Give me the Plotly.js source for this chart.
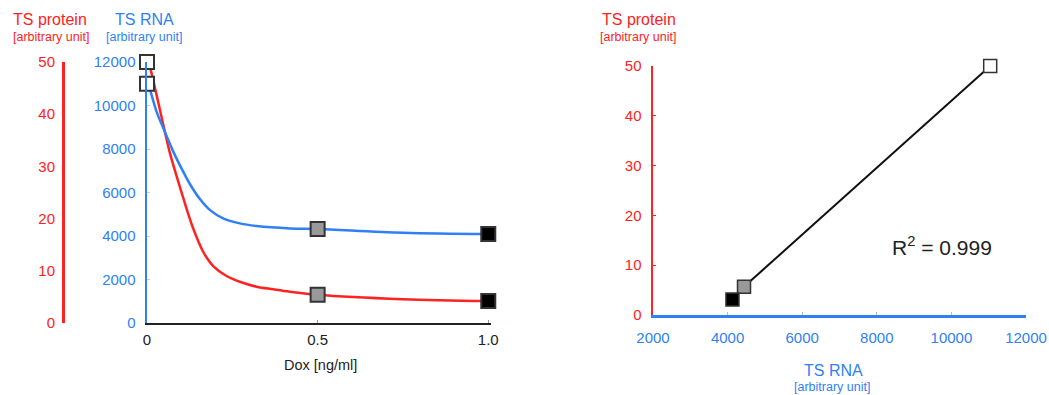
<!DOCTYPE html>
<html>
<head>
<meta charset="utf-8">
<script src="https://cdn.plot.ly/plotly-3.0.1.min.js"></script>
<style>html,body{margin:0;padding:0;background:#fff;}#chart{width:1049px;height:395px;}</style>
</head>
<body>
<div id="chart"></div>
<script>
// ---- data ----
const doseTicks = [0, 0.5, 1.0];
const doseTickText = ['0', '0.5', '1.0'];

// measured points (left panel)
const dosePoints = [0, 0.5, 1.0];
const rnaPoints = [11000, 4320, 4090];
const proteinPoints = [50, 5.4, 4.2];
const pointColors = ['#ffffff', '#999999', '#000000'];

// fitted curves (left panel)
const curveDoseRna = [0, 0.007, 0.028, 0.048, 0.077, 0.106, 0.126, 0.155, 0.184, 0.223, 0.272, 0.321, 0.419, 0.5, 0.75, 1.0];
const curveRna = [11000, 10790, 9720, 8950, 7880, 6960, 6380, 5700, 5200, 4810, 4580, 4460, 4350, 4320, 4150, 4090];
const curveDoseProtein = [0, 0.009, 0.028, 0.048, 0.067, 0.092, 0.106, 0.136, 0.165, 0.194, 0.233, 0.272, 0.321, 0.370, 0.419, 0.5, 0.75, 1.0];
const curveProtein = [50, 48.8, 43.7, 37.9, 32.6, 27.0, 24.0, 18.0, 13.6, 10.9, 9.0, 7.9, 6.95, 6.46, 6.0, 5.4, 4.55, 4.2];

// right panel scatter
const scatterRna = [11040, 4440, 4130];
const scatterProtein = [50, 5.66, 3.1];
const fitRna = [4440, 11040];
const fitProtein = [5.66, 50];

const proteinTicks = [0, 10, 20, 30, 40, 50];
const rnaTicks = [0, 2000, 4000, 6000, 8000, 10000, 12000];
const rnaTickText = ['0', '2000', '4000', '6000', '8000', '10000', '12000'];
const rnaTicksRight = [2000, 4000, 6000, 8000, 10000, 12000];
const rnaTickTextRight = ['2000', '4000', '6000', '8000', '10000', '12000'];

// ---- style ----
const RED = '#ff2222';
const BLUE = '#2f7ff5';
const FONT = 'Liberation Sans, Arial, sans-serif';
const W = 1049, H = 395;
const px = v => v / W;
const py = v => 1 - v / H;

const traces = [
  { x: curveDoseProtein, y: curveProtein, xaxis: 'x', yaxis: 'y', mode: 'lines',
    line: { color: RED, width: 2.5, shape: 'spline', smoothing: 1 }, hoverinfo: 'skip' },
  { x: dosePoints, y: proteinPoints, xaxis: 'x', yaxis: 'y', mode: 'markers', cliponaxis: false,
    marker: { symbol: 'square', size: 14, color: pointColors, line: { color: '#333', width: 2 } } },
  { x: curveDoseRna, y: curveRna, xaxis: 'x', yaxis: 'y2', mode: 'lines',
    line: { color: BLUE, width: 2.5, shape: 'spline', smoothing: 1 }, hoverinfo: 'skip' },
  { x: dosePoints, y: rnaPoints, xaxis: 'x', yaxis: 'y2', mode: 'markers', cliponaxis: false,
    marker: { symbol: 'square', size: 14, color: pointColors, line: { color: '#333', width: 2 } } },
  { x: fitRna, y: fitProtein, xaxis: 'x2', yaxis: 'y3', mode: 'lines',
    line: { color: '#111', width: 2 } },
  { x: scatterRna, y: scatterProtein, xaxis: 'x2', yaxis: 'y3', mode: 'markers', cliponaxis: false,
    marker: { symbol: 'square', size: 13, color: pointColors, line: { color: '#333', width: 1.5 } } }
];

const ann = (text, x, y, color, size) => ({
  text, x: px(x), y: py(y), xref: 'paper', yref: 'paper', showarrow: false,
  xanchor: 'center', yanchor: 'middle', font: { family: FONT, color, size }
});

const layout = {
  width: W, height: H,
  margin: { l: 0, r: 0, t: 0, b: 0 },
  paper_bgcolor: '#fff', plot_bgcolor: 'rgba(0,0,0,0)',
  showlegend: false,
  font: { family: FONT },
  xaxis: {
    domain: [px(147), px(491)], range: [0, 1.008], anchor: 'y',
    showline: true, linecolor: '#222', linewidth: 2, showgrid: false, zeroline: false,
    tickvals: doseTicks, ticktext: doseTickText, ticks: 'inside', ticklen: 3, tickcolor: '#999',
    tickfont: { size: 15, color: '#222' }, ticklabelstandoff: 2
  },
  yaxis: {
    domain: [1 - 323 / H, 1 - 62 / H], range: [0, 50], anchor: 'free', position: px(63), side: 'left',
    showline: true, linecolor: RED, linewidth: 2.5, showgrid: false, zeroline: false,
    tickvals: proteinTicks, ticks: '', tickfont: { size: 15, color: RED }, ticklabelstandoff: 4
  },
  yaxis2: {
    overlaying: 'y', range: [0, 12000], anchor: 'x', side: 'left',
    showline: true, linecolor: BLUE, linewidth: 2.5, showgrid: false, zeroline: false,
    tickvals: rnaTicks, ticktext: rnaTickText, ticks: 'inside', ticklen: 3, tickcolor: '#b8d0f5',
    tickfont: { size: 15, color: BLUE }, ticklabelstandoff: 6
  },
  xaxis2: {
    domain: [px(653), px(1026)], range: [2000, 12000], anchor: 'y3',
    showline: true, linecolor: BLUE, linewidth: 2.5, showgrid: false, zeroline: false,
    tickvals: rnaTicksRight, ticktext: rnaTickTextRight, ticks: 'inside', ticklen: 3, tickcolor: '#bbb',
    tickfont: { size: 15, color: BLUE }, ticklabelstandoff: 7
  },
  yaxis3: {
    domain: [1 - 315 / H, 1 - 66 / H], range: [0, 50], anchor: 'x2', side: 'left',
    showline: true, linecolor: RED, linewidth: 2.5, showgrid: false, zeroline: false,
    tickvals: proteinTicks, ticks: 'inside', ticklen: 3, tickcolor: RED,
    tickfont: { size: 15, color: RED }, ticklabelstandoff: 6
  },
  annotations: [
    ann('TS protein', 49.5, 19, RED, 16),
    ann('[arbitrary unit]', 50.5, 37, RED, 12.5),
    ann('TS RNA', 144, 19, BLUE, 16),
    ann('[arbitrary unit]', 143.5, 37, BLUE, 12.5),
    ann('Dox [ng/ml]', 320, 365, '#222', 14.5),
    ann('TS protein', 639, 19, RED, 16),
    ann('[arbitrary unit]', 638, 37, RED, 12.5),
    ann('TS RNA', 833, 370, BLUE, 16),
    ann('[arbitrary unit]', 832, 387, BLUE, 12.5),
    ann('R<sup>2</sup> = 0.999', 942, 246, '#222', 21)
  ]
};

Plotly.newPlot('chart', traces, layout, { staticPlot: true, displayModeBar: false });
</script>
</body>
</html>
